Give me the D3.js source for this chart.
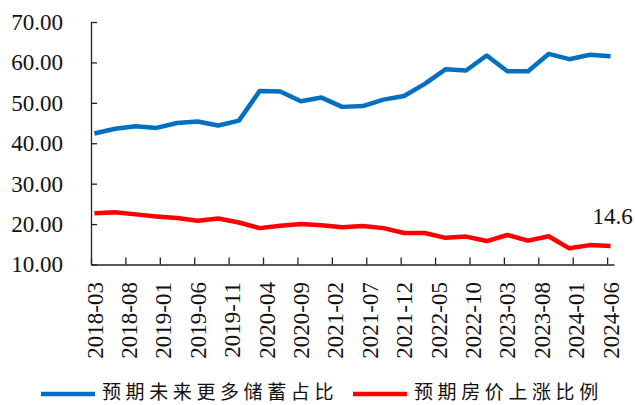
<!DOCTYPE html>
<html>
<head>
<meta charset="utf-8">
<script src="https://cdn.jsdelivr.net/npm/d3@7"></script>
<style>
  body { margin: 0; background: #fff; }
  svg text { font-family: "Liberation Serif", "Times New Roman", serif; fill: #111; }
  .legend text { font-family: "Noto Sans CJK SC", sans-serif; }
</style>
</head>
<body>
<div id="container"></div>
<script>
// Quarterly survey data, 2018-03 .. 2024-06
var quarters = ["2018-03","2018-06","2018-09","2018-12","2019-03","2019-06","2019-09","2019-12",
                "2020-03","2020-06","2020-09","2020-12","2021-03","2021-06","2021-09","2021-12",
                "2022-03","2022-06","2022-09","2022-12","2023-03","2023-06","2023-09","2023-12",
                "2024-03","2024-06"];
var savings = [42.4, 43.6, 44.2, 43.8, 45.0, 45.4, 44.4, 45.6, 52.9, 52.8, 50.4, 51.3, 49.0,
               49.2, 50.8, 51.7, 54.7, 58.3, 58.0, 61.7, 57.8, 57.8, 62.1, 60.8, 61.9, 61.5];
var housePrice = [22.7, 22.9, 22.4, 21.9, 21.5, 20.8, 21.4, 20.4, 19.0, 19.6, 20.0, 19.7, 19.2,
                  19.5, 19.0, 17.8, 17.8, 16.6, 16.9, 15.8, 17.3, 15.9, 17.0, 14.0, 14.8, 14.6];
var tickLabels = ["2018-03","2018-08","2019-01","2019-06","2019-11","2020-04","2020-09","2021-02",
                  "2021-07","2021-12","2022-05","2022-10","2023-03","2023-08","2024-01","2024-06"];
var seriesNames = ["预期未来更多储蓄占比", "预期房价上涨比例"];
var colors = ["#0070C0", "#FF0000"];

var width = 635, height = 405;

// month index counted from 2018-03
function monthIndex(s) {
  var p = s.split("-");
  return (+p[0] - 2018) * 12 + (+p[1] - 3);
}

var svg = d3.select("#container")
  .append("svg")
  .attr("width", width)
  .attr("height", height);

// each month is one slot, points sit in the middle of their slot
var x = d3.scaleLinear().domain([0, 76]).range([91, 614]);
var y = d3.scaleLinear().domain([10, 70]).range([264.5, 22]);

// y axis, ticks pointing inward
svg.append("g")
  .attr("transform", "translate(" + x(0) + ",0)")
  .call(d3.axisLeft(y).tickValues(d3.range(10, 71, 10))
    .tickSizeInner(-6).tickSizeOuter(0).tickPadding(28)
    .tickFormat(d3.format(".2f")))
  .call(function(g) {
    g.selectAll("text").style("font-size", "23px").attr("font-family", null);
    g.selectAll("line, path").attr("stroke", "#222").attr("stroke-width", 1.3);
  });

// x axis: ticks on slot edges
svg.append("g")
  .attr("transform", "translate(0," + y(10) + ")")
  .call(d3.axisBottom(x).tickValues(tickLabels.map(monthIndex))
    .tickSizeInner(-7).tickSizeOuter(0).tickFormat(""))
  .call(function(g) {
    g.selectAll("line, path").attr("stroke", "#222").attr("stroke-width", 1.3);
  });

// rotated x labels
svg.append("g").selectAll("text")
  .data(tickLabels)
  .enter().append("text")
  .attr("transform", function(d) {
    return "translate(" + x(monthIndex(d) + 0.5) + ",282) rotate(-90)";
  })
  .attr("dy", "0.35em")
  .style("text-anchor", "end")
  .style("font-size", "23px")
  .text(function(d) { return d; });

// lines
var line = d3.line()
  .x(function(d, i) { return x(monthIndex(quarters[i]) + 0.5); })
  .y(function(d) { return y(d); });

[savings, housePrice].forEach(function(vals, k) {
  svg.append("path")
    .datum(vals)
    .attr("d", line)
    .attr("fill", "none")
    .attr("stroke", colors[k])
    .attr("stroke-width", 4.5)
    .attr("stroke-linejoin", "round");
});

// data label on the last red point
var last = housePrice.length - 1;
svg.append("text")
  .attr("x", x(monthIndex(quarters[last]) + 0.5) + 2)
  .attr("y", y(housePrice[last]) - 22)
  .style("text-anchor", "middle")
  .style("font-size", "23px")
  .text(housePrice[last]);

// legend
var legend = svg.append("g").attr("class", "legend");
var legendX = [41, 353];
seriesNames.forEach(function(name, k) {
  legend.append("line")
    .attr("x1", legendX[k]).attr("x2", legendX[k] + 54)
    .attr("y1", 394).attr("y2", 394)
    .attr("stroke", colors[k])
    .attr("stroke-width", 4.5);
  legend.append("text")
    .attr("x", legendX[k] + 61)
    .attr("y", 392)
    .attr("dy", "0.36em")
    .style("font-size", "19px")
    .style("letter-spacing", "4.6px")
    .text(name);
});
</script>
</body>
</html>
